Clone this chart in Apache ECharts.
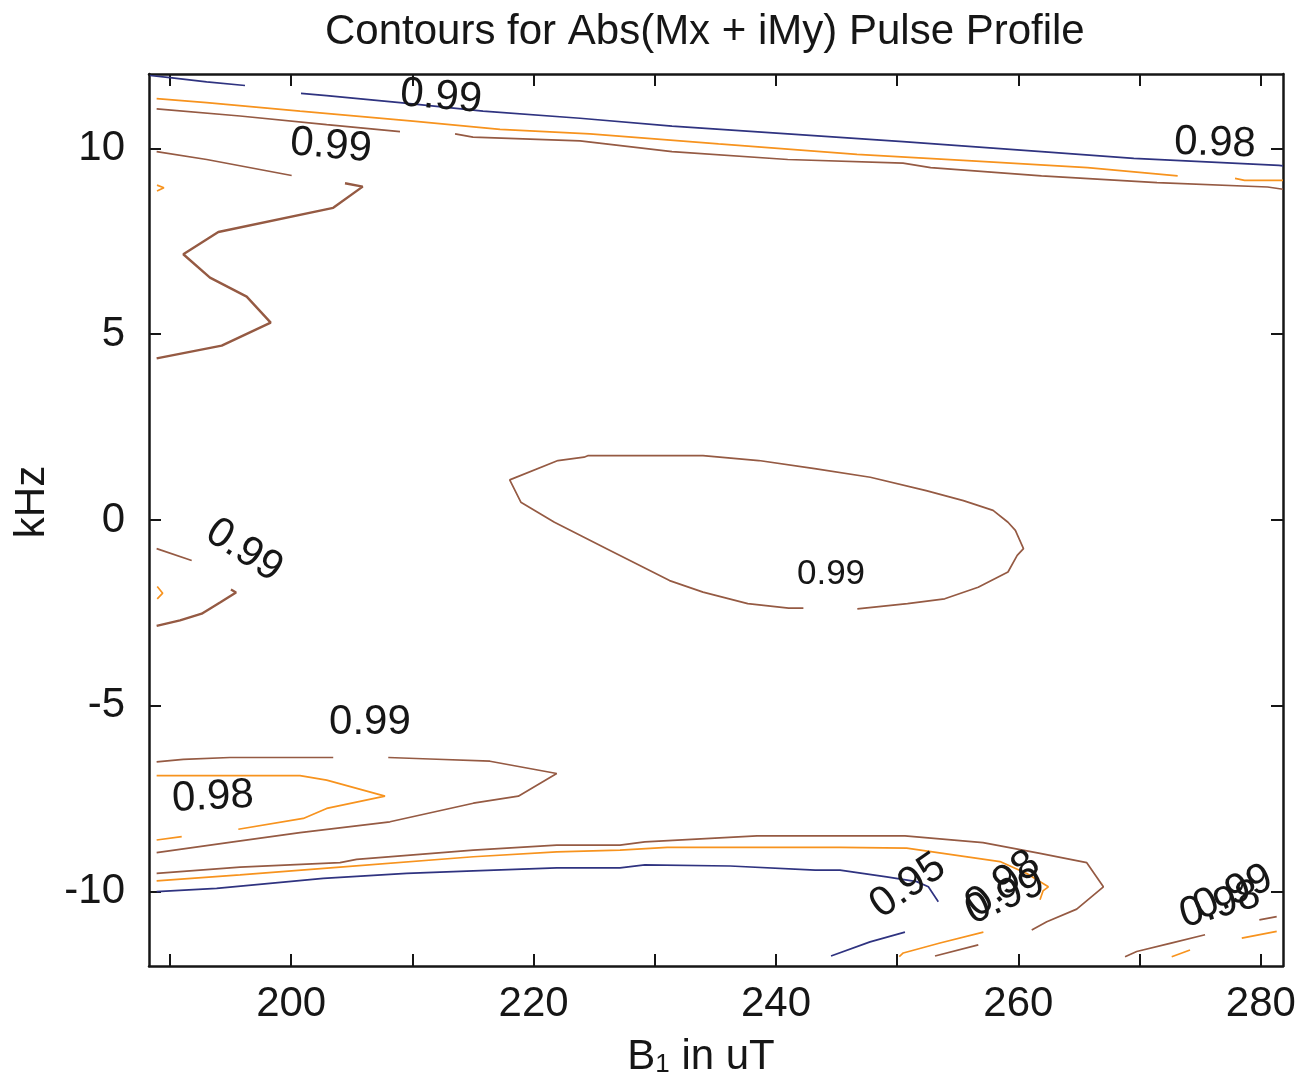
<!DOCTYPE html>
<html>
<head>
<meta charset="utf-8">
<script src="https://cdn.jsdelivr.net/npm/echarts@6/dist/echarts.min.js"></script>
<style>
  html, body { margin: 0; padding: 0; background: #ffffff; }
  #chart { width: 1306px; height: 1083px; }
</style>
</head>
<body>
<div id="chart"></div>
<script>
// Contour segments, each point is [B1 in uT, offset in kHz]

// level 0.95
const c095_topLeft = [[188.35, 11.96], [190.00, 11.90], [193.03, 11.79], [196.19, 11.69]];
const c095_top = [[200.81, 11.48], [202.93, 11.42], [208.98, 11.23], [215.83, 11.00], [223.83, 10.81],
  [231.42, 10.60], [240.97, 10.39], [250.48, 10.18], [261.91, 9.91], [269.52, 9.73], [281.50, 9.54], [281.83, 9.53]];
const c095_bottom = [[188.90, -10.00], [193.85, -9.91], [202.65, -9.64], [209.53, -9.51], [215.03, -9.44],
  [221.91, -9.36], [227.13, -9.36], [229.18, -9.28], [236.21, -9.31], [243.24, -9.42], [245.28, -9.42],
  [249.13, -9.60], [251.61, -9.73], [252.57, -9.87], [253.39, -10.27]];
const c095_corner = [[244.54, -11.73], [247.76, -11.35], [250.64, -11.09]];

// level 0.98
const c098_top = [[188.90, 11.34], [193.03, 11.23], [200.73, 11.00], [210.05, 10.73], [217.23, 10.51],
  [224.65, 10.39], [235.26, 10.12], [246.68, 9.84], [256.17, 9.66], [265.71, 9.48], [273.14, 9.26]];
const c098_topRight = [[277.87, 9.19], [278.66, 9.14], [281.83, 9.14]];
const c098_nubUpper = [[188.93, 9.01], [189.50, 8.94], [188.93, 8.85]];
const c098_nubMiddle = [[188.95, -1.79], [189.40, -1.97], [188.95, -2.12]];
const c098_tongue = [[188.90, -6.88], [200.73, -6.88], [202.93, -7.00], [207.74, -7.43], [202.93, -7.76],
  [201.00, -8.03], [195.64, -8.32]];
const c098_tongueTail = [[188.90, -8.61], [190.97, -8.52]];
const c098_bottom = [[188.90, -9.71], [195.78, -9.55], [204.03, -9.34], [215.03, -9.06], [221.91, -8.93],
  [227.13, -8.88], [231.03, -8.81], [245.28, -8.81], [250.78, -8.83], [258.48, -9.19], [260.69, -9.51],
  [262.47, -9.87], [262.03, -9.98], [261.78, -10.22]];
const c098_cornerA = [[250.17, -11.75], [250.50, -11.65], [253.53, -11.38], [257.11, -11.09]];
const c098_cornerB = [[272.65, -11.75], [274.16, -11.57]];
const c098_cornerC = [[278.43, -11.25], [281.31, -11.07]];

// level 0.99
const c099_top = [[188.90, 11.06], [195.78, 10.87], [202.93, 10.64], [208.98, 10.45]];
const c099_topRight = [[213.52, 10.39], [215.00, 10.30], [223.83, 10.20], [231.42, 9.91], [240.97, 9.70],
  [250.48, 9.60], [252.76, 9.48], [261.91, 9.26], [271.44, 9.08], [280.56, 8.96], [281.83, 8.90]];
const c099_upperLeft = [[188.90, 9.91], [193.03, 9.70], [200.04, 9.27]];
const c099_zigzag = [[204.44, 9.06], [205.90, 8.97], [203.47, 8.40], [193.99, 7.75], [191.10, 7.15],
  [193.30, 6.52], [196.33, 6.01], [198.31, 5.31], [194.27, 4.69], [188.90, 4.35]];
const c099_island = [[246.71, -2.39], [250.85, -2.25], [253.92, -2.12], [256.68, -1.81], [259.14, -1.40],
  [259.90, -0.95], [260.42, -0.77], [259.75, -0.28], [259.14, -0.06], [257.91, 0.26], [255.46, 0.52],
  [252.39, 0.79], [247.78, 1.15], [243.19, 1.38], [238.58, 1.60], [233.98, 1.73], [224.47, 1.73],
  [224.16, 1.69], [222.01, 1.60], [218.03, 1.08], [218.95, 0.48], [221.72, -0.06], [226.31, -0.82],
  [231.22, -1.63], [233.98, -1.94], [237.67, -2.25], [241.04, -2.37], [242.26, -2.37]];
const c099_midLeftA = [[188.90, -0.77], [191.79, -1.09]];
const c099_midLeftB = [[195.03, -1.87], [195.45, -1.95], [194.13, -2.22], [192.62, -2.52], [190.83, -2.70],
  [188.90, -2.85]];
const c099_tongueTop = [[188.90, -6.51], [191.10, -6.44], [194.95, -6.39], [203.47, -6.39]];
const c099_tongue = [[208.01, -6.39], [211.45, -6.43], [216.40, -6.49], [221.91, -6.82], [218.74, -7.43],
  [215.03, -7.62], [208.15, -8.12], [200.73, -8.41], [195.22, -8.66], [188.90, -8.95]];
const c099_bottom = [[188.90, -9.51], [195.78, -9.34], [204.03, -9.22], [205.40, -9.13], [215.03, -8.88],
  [221.91, -8.75], [227.13, -8.75], [229.18, -8.66], [238.43, -8.50], [250.64, -8.50], [257.08, -8.68],
  [261.78, -8.97], [265.64, -9.22], [267.01, -9.87], [264.81, -10.47], [262.34, -10.81], [261.10, -11.03]];
const c099_cornerA = [[253.12, -11.73], [256.69, -11.43]];
const c099_cornerB = [[268.80, -11.75], [269.76, -11.61], [272.51, -11.39], [275.40, -11.16]];
const c099_cornerC = [[279.88, -10.76], [281.31, -10.67]];

const contourLevels = ['0.95', '0.98', '0.99'];
const contourSegments = {
  '0.95': [c095_topLeft, c095_top, c095_bottom, c095_corner],
  '0.98': [c098_top, c098_topRight, c098_nubUpper, c098_nubMiddle, c098_tongue, c098_tongueTail,
           c098_bottom, c098_cornerA, c098_cornerB, c098_cornerC],
  '0.99': [c099_top, c099_topRight, c099_upperLeft, c099_zigzag, c099_island, c099_midLeftA,
           c099_midLeftB, c099_tongueTop, c099_tongue, c099_bottom, c099_cornerA, c099_cornerB, c099_cornerC]
};
// a few segments are drawn with a heavier stroke
const heavySegments = [c099_zigzag, c099_midLeftB];

// inline contour labels: level text and the point each one sits on
const labelTexts = ['0.99', '0.99', '0.98', '0.99', '0.99', '0.99', '0.98', '0.95', '0.98', '0.99', '0.98', '0.99'];
const labelPoints = [[212.36, 11.38], [203.28, 10.06], [276.22, 10.13], [196.11, -0.82], [244.54, -1.46],
  [206.50, -5.44], [193.55, -7.46], [250.89, -9.85], [258.73, -9.80], [258.90, -10.15], [276.64, -10.36],
  [277.71, -10.03]];
const labelAngles = [-5, -5, -2, -33, 0, 0, 3, 35, 38, 24, 16, 24];
const labelSizes = [42, 42, 42, 42, 35, 42, 42, 42, 42, 42, 42, 42];

// axis ticks
const xTicks = [190, 200, 210, 220, 230, 240, 250, 260, 270, 280];
const xTickLabels = [200, 220, 240, 260, 280];
const yTicks = [-10, -5, 0, 5, 10];

const levelColors = { '0.95': '#2f3380', '0.98': '#f7931e', '0.99': '#955a43' };
const FONT = '"Liberation Sans", Arial, Helvetica, sans-serif';
const INK = '#161616';

const series = [];
contourLevels.forEach(function (lv) {
  contourSegments[lv].forEach(function (seg) {
    series.push({
      type: 'line',
      name: lv,
      data: seg,
      showSymbol: false,
      symbol: 'none',
      silent: true,
      lineStyle: { color: levelColors[lv], width: heavySegments.indexOf(seg) >= 0 ? 2.4 : 1.7 },
      z: 3
    });
  });
});

series.push({
  type: 'scatter',
  name: 'labels',
  symbolSize: 0,
  silent: true,
  z: 5,
  itemStyle: { opacity: 1 },
  data: labelTexts.map(function (t, i) {
    return {
      value: labelPoints[i],
      label: {
        show: true,
        position: 'inside',
        formatter: t,
        rotate: labelAngles[i],
        fontSize: labelSizes[i],
        fontFamily: FONT,
        color: INK,
        opacity: 1,
        textBorderWidth: 0
      }
    };
  })
});

const xMin = 188.27, xMax = 281.83;

const frameLine = { show: true, onZero: false, lineStyle: { color: INK, width: 2.5 } };
const tickStyle = { color: INK, width: 2 };

const chart = echarts.init(document.getElementById('chart'), null, { renderer: 'canvas' });
chart.setOption({
  animation: false,
  backgroundColor: '#ffffff',
  title: {
    text: 'Contours for Abs(Mx + iMy) Pulse Profile',
    left: 320,
    top: 6,
    textStyle: { fontFamily: FONT, fontSize: 42, fontWeight: 'normal', color: INK }
  },
  grid: { left: 149, top: 74, width: 1134, height: 893 },
  xAxis: [{
    type: 'value', min: xMin, max: xMax, position: 'bottom',
    axisLine: frameLine,
    axisTick: { show: true, inside: true, length: 12, lineStyle: tickStyle, customValues: xTicks },
    axisLabel: { show: true, customValues: xTickLabels, fontSize: 42, fontFamily: FONT, color: INK, margin: 17 },
    splitLine: { show: false },
    name: '{b|B}{s|1}{b| in uT}',
    nameLocation: 'middle',
    nameGap: 70,
    nameTextStyle: {
      padding: [0, 30, 0, 0],
      rich: {
        b: { fontSize: 42, fontFamily: FONT, color: INK },
        s: { fontSize: 26, fontFamily: FONT, color: INK, verticalAlign: 'bottom', padding: [14, 0, 0, 0] }
      }
    }
  }, {
    type: 'value', min: xMin, max: xMax, position: 'top',
    axisLine: frameLine,
    axisTick: { show: true, inside: true, length: 12, lineStyle: tickStyle, customValues: xTicks },
    axisLabel: { show: false },
    splitLine: { show: false }
  }],
  yAxis: [{
    type: 'value', min: -12, max: 12, position: 'left',
    axisLine: frameLine,
    axisTick: { show: true, inside: true, length: 12, lineStyle: tickStyle, customValues: yTicks },
    axisLabel: { show: true, customValues: yTicks, fontSize: 42, fontFamily: FONT, color: INK, margin: 24 },
    splitLine: { show: false },
    name: 'kHz',
    nameLocation: 'middle',
    nameGap: 94,
    nameTextStyle: { fontSize: 42, fontFamily: FONT, color: INK, padding: [0, 0, 0, 36] }
  }, {
    type: 'value', min: -12, max: 12, position: 'right',
    axisLine: frameLine,
    axisTick: { show: true, inside: true, length: 12, lineStyle: tickStyle, customValues: yTicks },
    axisLabel: { show: false },
    splitLine: { show: false }
  }],
  series: series
});
</script>
</body>
</html>
